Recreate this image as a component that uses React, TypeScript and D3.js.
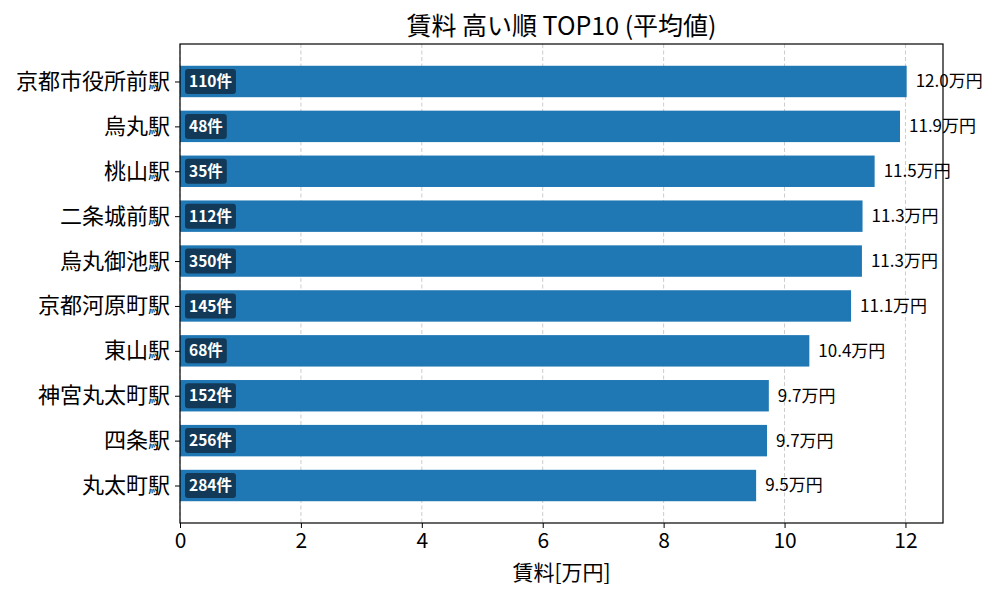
import React, { useEffect, useRef } from "react";
import * as d3 from "d3";

const stations = [
  "京都市役所前駅",
  "烏丸駅",
  "桃山駅",
  "二条城前駅",
  "烏丸御池駅",
  "京都河原町駅",
  "東山駅",
  "神宮丸太町駅",
  "四条駅",
  "丸太町駅",
];
const rents = [12.02, 11.91, 11.49, 11.29, 11.28, 11.1, 10.41, 9.74, 9.71, 9.53];
const counts = [110, 48, 35, 112, 350, 145, 68, 152, 256, 284];
const xTicks = [0, 2, 4, 6, 8, 10, 12];

const FONT = "'Noto Sans CJK JP', 'Noto Sans', sans-serif";

const App: React.FC = () => {
  const svgRef = useRef<SVGSVGElement | null>(null);

  useEffect(() => {
    if (!svgRef.current) return;
    const width = 1000;
    const height = 600;
    const margin = { top: 44, right: 57, bottom: 77, left: 180 };
    const innerW = width - margin.left - margin.right;
    const innerH = height - margin.top - margin.bottom;

    const svg = d3.select(svgRef.current);
    svg.selectAll("*").remove();
    svg.style("font-family", FONT);

    const g = svg.append("g").attr("transform", `translate(${margin.left},${margin.top})`);

    // matplotlib-like padding: bars of height 0.7, 5% margins
    const maxV = d3.max(rents)!;
    const x = d3.scaleLinear().domain([0, maxV * 1.05]).range([0, innerW]);
    const n = stations.length;
    const yLo = -0.35 - (n - 1 + 0.7) * 0.05;
    const yHi = n - 1 + 0.35 + (n - 1 + 0.7) * 0.05;
    const y = d3.scaleLinear().domain([yLo, yHi]).range([0, innerH]);
    const barH = y(0.7) - y(0);

    // grid
    g.append("g")
      .selectAll("line")
      .data(xTicks)
      .join("line")
      .attr("x1", d => x(d))
      .attr("x2", d => x(d))
      .attr("y1", 0)
      .attr("y2", innerH)
      .attr("stroke", "#cccccc")
      .attr("stroke-width", 1)
      .attr("stroke-dasharray", "4,2.5");

    // bars
    g.append("g")
      .selectAll("rect")
      .data(rents)
      .join("rect")
      .attr("x", x(0))
      .attr("y", (_, i) => y(i) - barH / 2)
      .attr("width", d => x(d) - x(0))
      .attr("height", barH)
      .attr("fill", "#1f77b4");

    // value labels
    g.append("g")
      .selectAll("text")
      .data(rents)
      .join("text")
      .attr("x", d => x(d) + 9)
      .attr("y", (_, i) => y(i))
      .attr("dy", "0.35em")
      .attr("font-size", "17px")
      .attr("fill", "#000")
      .text(d => `${d.toFixed(1)}万円`);

    // count badges
    counts.forEach((c, i) => {
      const bg = g.append("g");
      const rect = bg.append("rect");
      const t = bg.append("text")
        .attr("x", 9)
        .attr("y", y(i))
        .attr("dy", "0.36em")
        .attr("font-size", "15.5px")
        .attr("font-weight", "bold")
        .attr("fill", "#fff")
        .text(`${c}件`);
      const bb = (t.node() as SVGTextElement).getBBox();
      rect
        .attr("x", 5)
        .attr("y", y(i) - 12.5)
        .attr("width", bb.width + 8)
        .attr("height", 25)
        .attr("rx", 3)
        .attr("fill", "#123a58");
    });

    // y axis
    const yAxis = g.append("g")
      .call(
        d3.axisLeft(y)
          .tickValues(d3.range(n))
          .tickFormat(i => stations[i as number])
          .tickSize(5)
          .tickPadding(5)
      );
    yAxis.select(".domain").remove();
    yAxis.selectAll("text").attr("font-size", "22px").attr("font-family", FONT).attr("fill", "#000");
    yAxis.selectAll("line").attr("stroke", "#000");

    // x axis
    const xAxis = g.append("g")
      .attr("transform", `translate(0,${innerH})`)
      .call(d3.axisBottom(x).tickValues(xTicks).tickFormat(d3.format("d")).tickSize(5).tickPadding(5));
    xAxis.select(".domain").remove();
    xAxis.selectAll("text").attr("font-size", "21px").attr("font-family", FONT).attr("fill", "#000");
    xAxis.selectAll("line").attr("stroke", "#000");

    // frame
    g.append("rect")
      .attr("x", 0)
      .attr("y", 0)
      .attr("width", innerW)
      .attr("height", innerH)
      .attr("fill", "none")
      .attr("stroke", "#000")
      .attr("stroke-width", 1.2);

    // title
    svg.append("text")
      .attr("x", margin.left + innerW / 2)
      .attr("y", 35)
      .attr("text-anchor", "middle")
      .attr("font-size", "25px")
      .text("賃料 高い順 TOP10 (平均値)");

    // x label
    svg.append("text")
      .attr("x", margin.left + innerW / 2)
      .attr("y", 580)
      .attr("text-anchor", "middle")
      .attr("font-size", "21px")
      .text("賃料[万円]");
  }, []);

  return (
    <div style={{ position: "absolute", left: 0, top: 0, width: 1000, height: 600, background: "#fff" }}>
      <svg ref={svgRef} width={1000} height={600} viewBox="0 0 1000 600" />
    </div>
  );
};

export default App;
